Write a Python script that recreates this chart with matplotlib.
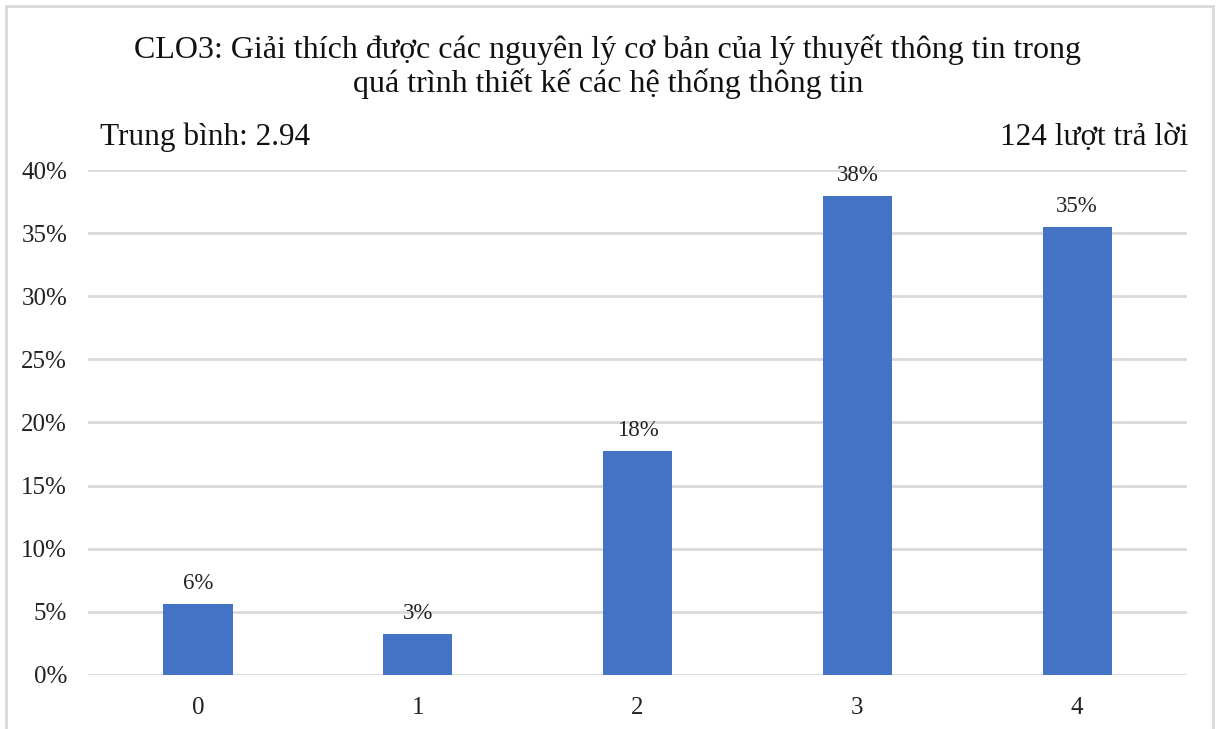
import matplotlib.pyplot as plt
from matplotlib.patches import Rectangle
from matplotlib.ticker import PercentFormatter

# response counts per score level
scores = ['0', '1', '2', '3', '4']
counts = [7, 4, 22, 47, 44]
total = sum(counts)
shares = [c / total for c in counts]
mean_score = sum(int(s) * c for s, c in zip(scores, counts)) / total

title = ('CLO3: Giải thích được các nguyên lý cơ bản của lý thuyết thông tin trong\n'
         'quá trình thiết kế các hệ thống thông tin')

plt.rcParams['font.family'] = ['Liberation Serif', 'DejaVu Serif']

fig = plt.figure(figsize=(12.16, 7.29), dpi=100)
ax = fig.add_axes([0.0724, 0.0741, 0.9038, 0.6927])

x = range(len(scores))
bars = ax.bar(x, shares, width=0.315, color='#4472C4', zorder=3)
for b, v in zip(bars, shares):
    ax.text(b.get_x() + b.get_width() / 2, v + 0.008, f'{v:.0%}',
            ha='center', va='bottom', fontsize=16.5, color='#222222')

ax.set_xlim(-0.5, len(scores) - 0.5)
ax.set_ylim(0, 0.40)
ax.set_yticks([i * 0.05 for i in range(9)])
ax.yaxis.set_major_formatter(PercentFormatter(1.0, decimals=0))
ax.set_xticks(list(x))
ax.set_xticklabels(scores)
ax.tick_params(length=0, labelsize=18, colors='#222222')
ax.tick_params(axis='x', pad=16)
ax.tick_params(axis='y', pad=15)
ax.grid(axis='y', color='#d9d9d9', linewidth=2, zorder=0)
for s in ax.spines.values():
    s.set_visible(False)

fig.text(0.5, 0.953, title, ha='center', va='top', fontsize=23,
         linespacing=1.18, color='#111111')
fig.text(100 / 1216, 1 - 145 / 729, f'Trung bình: {mean_score:.2f}',
         ha='left', va='baseline', fontsize=22.5, color='#111111')
fig.text(1188 / 1216, 1 - 145 / 729, f'{total} lượt trả lời',
         ha='right', va='baseline', fontsize=22.5, color='#111111')

fig.patches.append(Rectangle((6 / 1216, -0.02), 1207 / 1216, 1.02 - 6 / 729,
                             transform=fig.transFigure, fill=False,
                             edgecolor='#d9d9d9', linewidth=2))

fig.savefig('out.png', dpi=100)
